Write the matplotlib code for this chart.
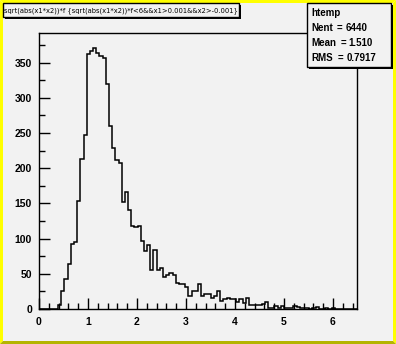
import numpy as np
import matplotlib
matplotlib.use("Agg")
import matplotlib.pyplot as plt
from matplotlib.patches import Rectangle, Polygon
from matplotlib.ticker import MultipleLocator

# ---- data ----
x_min, x_max, n_bins = 0.0, 6.49, 100
counts = [0, 0, 0, 0, 0, 0, 5, 26, 42, 64,
          92, 95, 153, 213, 247, 362, 366, 371, 364, 359,
          357, 319, 260, 229, 212, 208, 152, 166, 141, 118,
          116, 118, 96, 82, 91, 56, 84, 56, 58, 45,
          48, 51, 48, 37, 35, 35, 31, 18, 26, 26,
          35, 19, 21, 21, 15, 18, 25, 11, 14, 16,
          14, 14, 10, 14, 8, 15, 6, 6, 5, 5,
          7, 10, 1, 1, 4, 1, 4, 2, 2, 1,
          4, 3, 2, 2, 1, 0, 1, 3, 0, 0,
          1, 0, 1, 0, 0, 0, 0, 0, 0, 0]
x_ticks = [0, 1, 2, 3, 4, 5, 6]
y_ticks = [0, 50, 100, 150, 200, 250, 300, 350]
title = "sqrt(abs(x1*x2))*f {sqrt(abs(x1*x2))*f<6&&x1>0.001&&x2>-0.001}"
stats_name = "htemp"
stats_rows = [("Nent", "6440"), ("Mean", "1.510"), ("RMS", "0.7917")]

W, H = 396, 344
BG = "#f2f2f2"
FONT = "Liberation Sans"
fig = plt.figure(figsize=(W / 100, H / 100), dpi=100)
fig.patch.set_facecolor(BG)

# main axes (pixel frame: left 39, right 357, top 33, bottom 309)
L, R, T, B = 39, 357, 33, 309
ax = fig.add_axes([L / W, (H - B) / H, (R - L) / W, (B - T) / H])
ax.set_facecolor(BG)
edges = np.linspace(x_min, x_max, n_bins + 1)
ax.stairs(counts, edges, color="black", lw=1.1)
ax.set_xlim(x_min, x_max)
ax.set_ylim(0, 392)
ax.set_xticks(x_ticks)
ax.set_yticks(y_ticks)
ax.xaxis.set_minor_locator(MultipleLocator(0.2))
ax.yaxis.set_minor_locator(MultipleLocator(25))
ax.tick_params(which="both", direction="in", top=False, right=False,
               width=1, color="black")
ax.tick_params(which="major", length=8)
ax.tick_params(which="minor", length=4)
ax.tick_params(axis="x", which="major", pad=6)
ax.tick_params(axis="y", which="major", pad=5)
for lab in ax.get_xticklabels() + ax.get_yticklabels():
    lab.set_fontsize(7.5)
    lab.set_fontweight("bold")
    lab.set_family(FONT)
for s in ax.spines.values():
    s.set_linewidth(1)
    s.set_color("black")

# overlay axes in pixel coords
ov = fig.add_axes([0, 0, 1, 1], zorder=5)
ov.set_xlim(0, W)
ov.set_ylim(H, 0)
ov.axis("off")
ov.patch.set_alpha(0)

# canvas bevel border
bw = 3
light = "#ffff00"
dark = "#b4b400"
ov.add_patch(Polygon([(0, 0), (W, 0), (W - bw, bw), (bw, bw)], closed=True, color=light, lw=0))
ov.add_patch(Polygon([(0, 0), (bw, bw), (bw, H - bw), (0, H)], closed=True, color=light, lw=0))
ov.add_patch(Polygon([(W, 0), (W, H), (W - bw, H - bw), (W - bw, bw)], closed=True, color=light, lw=0))
ov.add_patch(Polygon([(0, H), (W, H), (W - bw, H - bw), (bw, H - bw)], closed=True, color=dark, lw=0))

def box(x0, y0, x1, y1):
    # shadow
    ov.add_patch(Rectangle((x0 + 2, y0 + 2), x1 - x0, y1 - y0, facecolor="black", lw=0))
    ov.add_patch(Rectangle((x0, y0), x1 - x0, y1 - y0, facecolor=BG, edgecolor="black", lw=1))

# title box
box(3, 3, 239, 17)
ov.text(4.5, 10.5, title, fontsize=4.9, ha="left", va="center", color="black",
        family="DejaVu Sans")

# stats box
box(307, 3, 391, 67)
ov.text(311, 13, stats_name, fontsize=7, fontweight="bold", ha="left", va="center", family=FONT)
ys = [28, 43, 58]
eqx = [337, 341, 338]
vx = [346, 348, 347]
for (k, v), y, ex, vv in zip(stats_rows, ys, eqx, vx):
    ov.text(311, y, k, fontsize=7, fontweight="bold", ha="left", va="center", family=FONT)
    ov.text(ex, y, "=", fontsize=7, fontweight="bold", ha="left", va="center", family=FONT)
    ov.text(vv, y, v, fontsize=7, fontweight="bold", ha="left", va="center", family=FONT)

fig.savefig("out.png", dpi=100, facecolor=BG)
